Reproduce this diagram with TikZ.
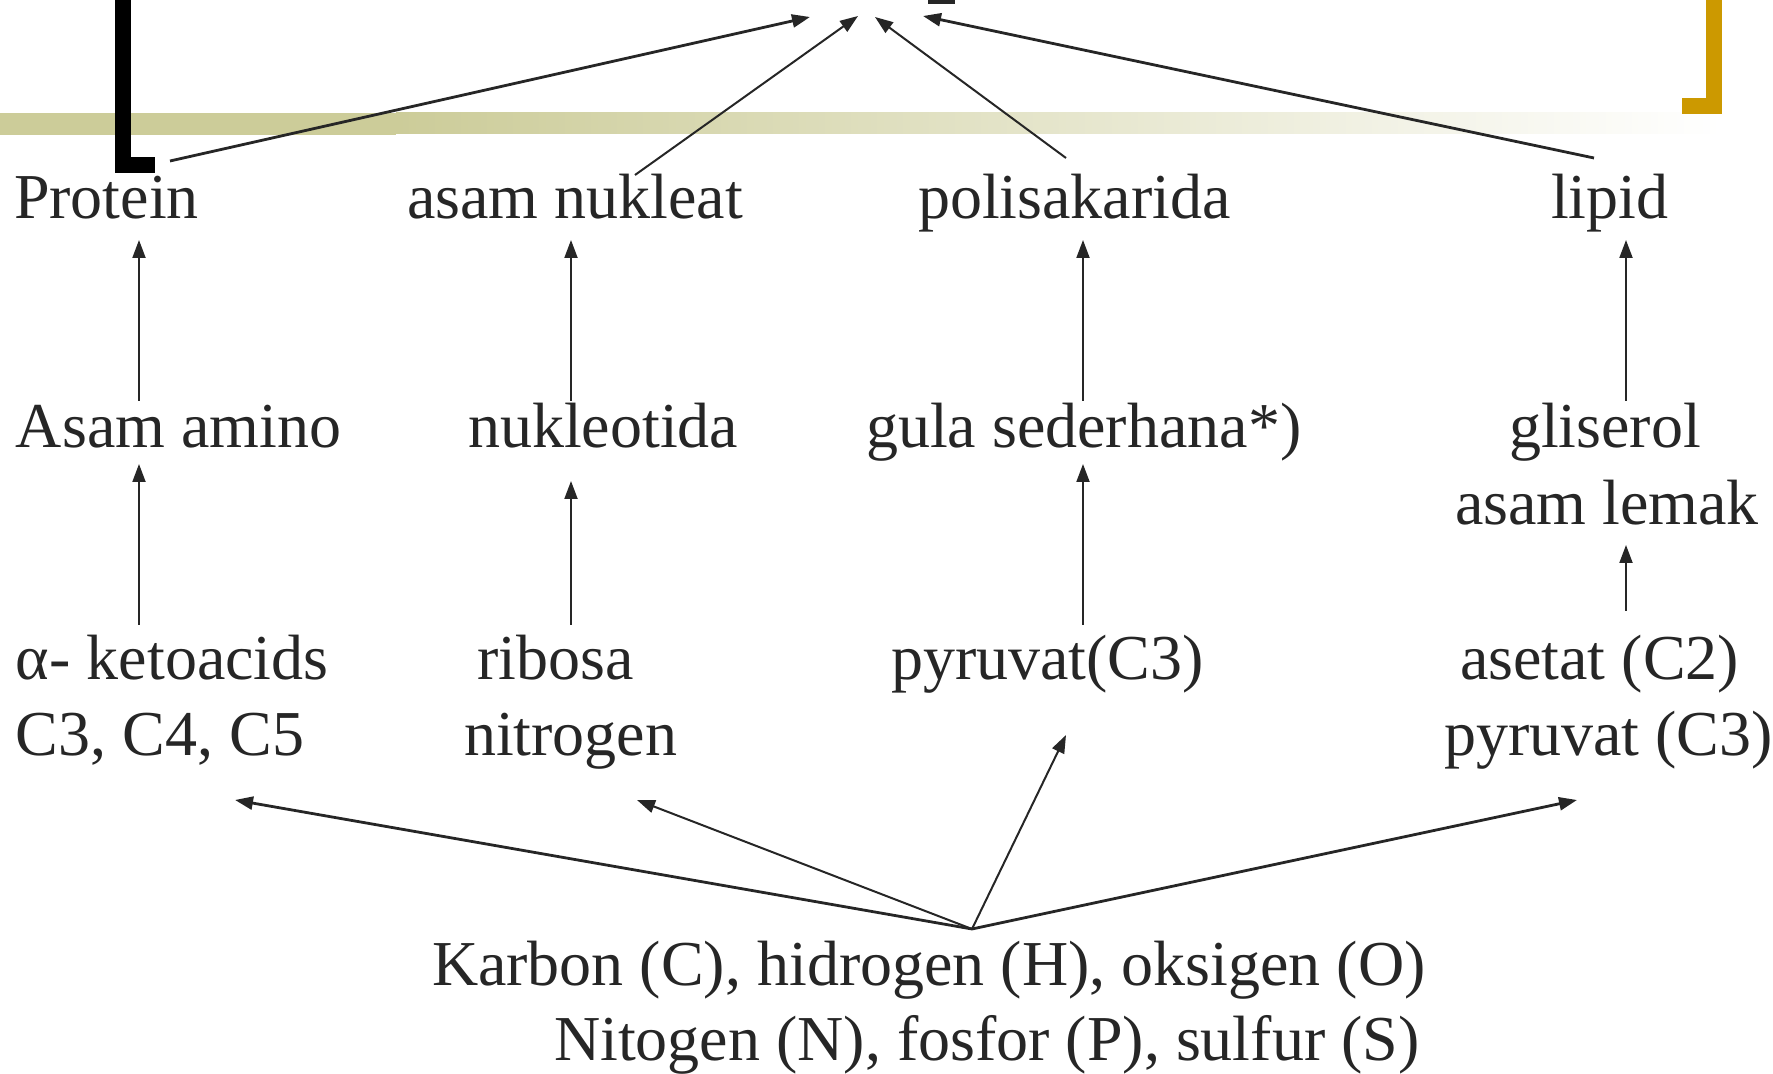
\documentclass[tikz,border=0pt]{standalone}
\usepackage{fontspec}
\setmainfont{Liberation Serif}
\usetikzlibrary{arrows.meta}
\definecolor{ink}{HTML}{262626}
\definecolor{khaki}{HTML}{CCCC99}
\definecolor{gold}{HTML}{CC9900}

\begin{document}
\begin{tikzpicture}[x=0.5pt,y=-0.5pt,
  lbl/.style={anchor=base west, inner sep=0pt, outer sep=0pt, text=ink,
    font=\fontsize{32}{37.5}\selectfont},
  link/.style={draw=ink, line width=1pt, -{Triangle[length=9pt,width=6.5pt]}},
  heavy/.style={link, line width=1.4pt}]
\useasboundingbox (0,0) rectangle (1773,1074);

% header band: solid on the left, fading to white
\fill[khaki] (0,113) rectangle (396,135);
\shade[left color=khaki, right color=white] (396,113) rectangle (1722,134);

% corner brackets
\fill[black] (115,0) rectangle (131,173);
\fill[black] (115,157) rectangle (155,173);
\fill[gold] (1706,0) rectangle (1722,114);
\fill[gold] (1682,98) rectangle (1722,114);

% foot of the heading glyph
\fill[ink] (928,0) rectangle (955,4);

% labels
\node[lbl] (protein) at (14,219) {Protein};
\node[lbl] (nukleat) at (407,219) {asam nukleat};
\node[lbl] (polisak) at (918,219) {polisakarida};
\node[lbl] (lipid) at (1551,219) {lipid};

\node[lbl] (amino) at (16,448) {Asam amino};
\node[lbl] (nukleotida) at (468,448) {nukleotida};
\node[lbl] (gula) at (866,448) {gula sederhana*)};
\node[lbl] (gliserol) at (1509,448) {gliserol};
\node[lbl] (lemak) at (1455,525) {asam lemak};

\node[lbl] (keto) at (16,680) {α- ketoacids};
\node[lbl] (ckarbon) at (16,755) {C3, C4, C5};
\node[lbl] (ribosa) at (477,680) {ribosa};
\node[lbl] (nitrogen) at (464,755) {nitrogen};
\node[lbl] (pyr) at (891,680) {pyruvat(C3)};
\node[lbl] (asetat) at (1460,680) {asetat (C2)};
\node[lbl] (pyrtwo) at (1444,755) {pyruvat (C3)};

\node[lbl] (unsur1) at (432,985) {Karbon (C), hidrogen (H), oksigen (O)};
\node[lbl] (unsur2) at (554,1060) {Nitogen (N), fosfor (P), sulfur (S)};

% arrow end points
\coordinate (tA) at (810,17);
\coordinate (tB) at (858,16);
\coordinate (tC) at (875,17);
\coordinate (tD) at (923,16);
\coordinate (sA) at (170,161);
\coordinate (sB) at (635,175);
\coordinate (sC) at (1066,158);
\coordinate (sD) at (1594,158);

\coordinate (c1t) at (139,240);  \coordinate (c1b) at (139,401);
\coordinate (c1t2) at (139,464); \coordinate (c1b2) at (139,625);
\coordinate (c2t) at (571,240);  \coordinate (c2b) at (571,401);
\coordinate (c2t2) at (571,481); \coordinate (c2b2) at (571,625);
\coordinate (c3t) at (1083,240); \coordinate (c3b) at (1083,401);
\coordinate (c3t2) at (1083,464);\coordinate (c3b2) at (1083,625);
\coordinate (c4t) at (1626,240); \coordinate (c4b) at (1626,401);
\coordinate (c4t2) at (1626,545);\coordinate (c4b2) at (1626,611);

\coordinate (src) at (972,929);
\coordinate (eA) at (235,800);
\coordinate (eB) at (637,800);
\coordinate (eC) at (1066,735);
\coordinate (eD) at (1577,800);

% macromolecules to the heading
\draw[heavy] (sA) -- (tA);
\draw[link] (sB) -- (tB);
\draw[link] (sC) -- (tC);
\draw[heavy] (sD) -- (tD);

% building blocks
\draw[link] (c1b) -- (c1t);
\draw[link] (c1b2) -- (c1t2);
\draw[link] (c2b) -- (c2t);
\draw[link] (c2b2) -- (c2t2);
\draw[link] (c3b) -- (c3t);
\draw[link] (c3b2) -- (c3t2);
\draw[link] (c4b) -- (c4t);
\draw[link] (c4b2) -- (c4t2);

% elements to precursors
\draw[heavy] (src) -- (eA);
\draw[link] (src) -- (eB);
\draw[link] (src) -- (eC);
\draw[heavy] (src) -- (eD);
\end{tikzpicture}
\end{document}
